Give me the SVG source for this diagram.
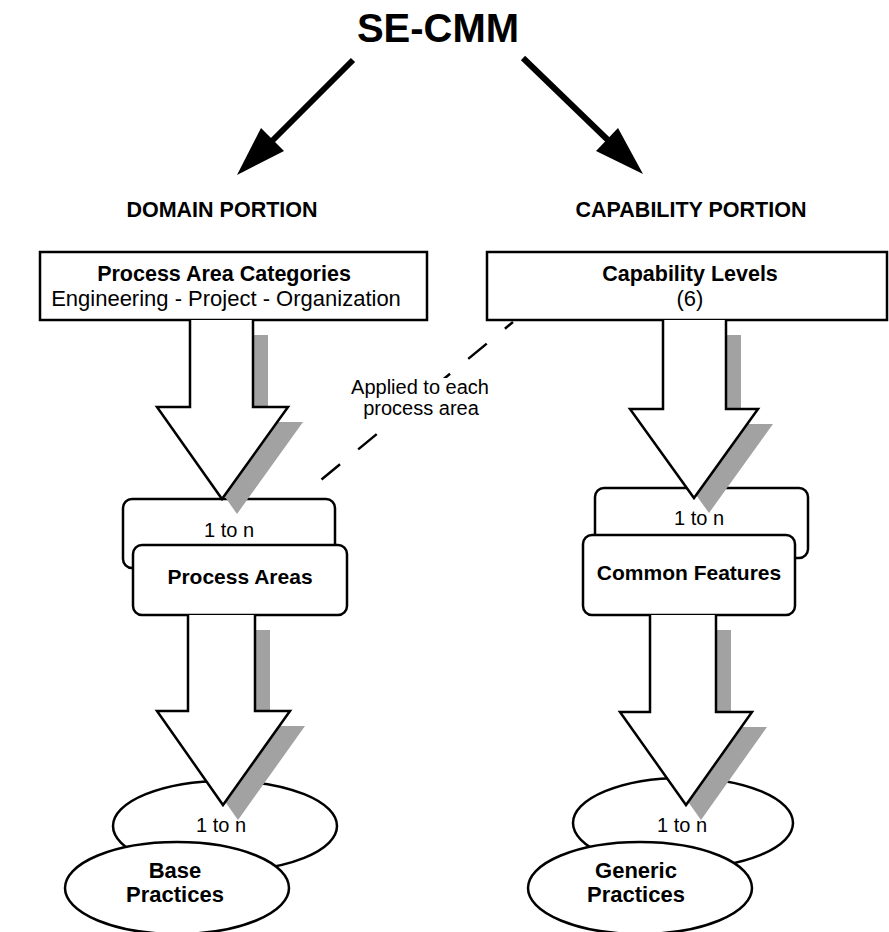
<svg xmlns="http://www.w3.org/2000/svg" width="889" height="932" viewBox="0 0 889 932">
<style>
text{font-family:"Liberation Sans",Arial,Helvetica,sans-serif;fill:#000}
.b{font-weight:bold}
.m{text-anchor:middle}
.box{fill:#fff;stroke:#000;stroke-width:2.5}
.big{fill:#fff;stroke:#000;stroke-width:2.5;stroke-linejoin:miter}
.sh{fill:#a2a2a2}
.thin{stroke:#000;stroke-width:6;fill:none}
.head{fill:#000}
.dash{stroke:#000;stroke-width:2.5;fill:none;stroke-dasharray:24 23.5;stroke-dashoffset:13.5}
</style>
<rect width="889" height="932" fill="#fff"/>
<g id="nodes">
<g id="title"><text class="b m" x="438" y="42" font-size="40">SE-CMM</text></g>
<g id="domain-label"><text class="b m" x="222" y="217" font-size="21.5">DOMAIN PORTION</text></g>
<g id="capability-label"><text class="b m" x="691" y="217" font-size="21.5">CAPABILITY PORTION</text></g>
<g id="process-area-categories">
<rect class="box" x="40" y="252" width="387" height="68"/>
<text class="b m" x="224" y="281" font-size="21.5">Process Area Categories</text>
<text class="m" x="226" y="306" font-size="22">Engineering - Project - Organization</text>
</g>
<g id="capability-levels">
<rect class="box" x="487" y="252" width="400" height="68"/>
<text class="b m" x="690" y="281" font-size="21.5">Capability Levels</text>
<text class="m" x="690" y="306" font-size="22">(6)</text>
</g>
<g id="pa-1-to-n">
<rect class="box" x="123" y="499" width="212" height="69" rx="9"/>
<text class="m" x="229" y="537" font-size="20">1 to n</text>
</g>
<g id="process-areas">
<rect class="box" x="133" y="545" width="214" height="70" rx="9"/>
<text class="b m" x="240" y="584" font-size="21">Process Areas</text>
</g>
<g id="cf-1-to-n">
<rect class="box" x="595" y="488" width="213" height="70" rx="9"/>
<text class="m" x="699" y="525" font-size="20">1 to n</text>
</g>
<g id="common-features">
<rect class="box" x="583" y="535" width="212" height="80" rx="9"/>
<text class="b m" x="689" y="580" font-size="21">Common Features</text>
</g>
<g id="bp-1-to-n">
<ellipse class="box" cx="225" cy="826" rx="112" ry="45"/>
<text class="m" x="221" y="832" font-size="20">1 to n</text>
</g>
<g id="base-practices">
<ellipse class="box" cx="177" cy="888" rx="112" ry="46"/>
<text class="b m" x="175" y="878" font-size="22">Base</text>
<text class="b m" x="175" y="902" font-size="22">Practices</text>
</g>
<g id="gp-1-to-n">
<ellipse class="box" cx="683" cy="823" rx="110" ry="45"/>
<text class="m" x="682" y="832" font-size="20">1 to n</text>
</g>
<g id="generic-practices">
<ellipse class="box" cx="640" cy="888" rx="112" ry="46"/>
<text class="b m" x="636" y="878" font-size="22">Generic</text>
<text class="b m" x="636" y="902" font-size="22">Practices</text>
</g>
</g>
<g id="connectors">
<line class="thin" x1="353" y1="60" x2="268" y2="145"/>
<polygon class="head" points="237,175 261,128 284,151"/>
<line class="thin" x1="523" y1="58" x2="612" y2="144"/>
<polygon class="head" points="643,174 618,128 596,151"/>
<g transform="translate(15,15)">
<path class="sh" d="M190,320 V407 H157 L222,499 L288,407 H253 V320 Z"/>
<path class="sh" d="M663,320 V409 H630 L694,498 L758,409 H726 V320 Z"/>
<path class="sh" d="M188,615 V711 H157 L223,805 L290,711 H255 V615 Z"/>
<path class="sh" d="M650,615 V712 H620 L686,805 L752,712 H716 V615 Z"/>
</g>
<path class="big" d="M190,320 V407 H157 L222,499 L288,407 H253 V320"/>
<path class="big" d="M663,320 V409 H630 L694,498 L758,409 H726 V320"/>
<path class="big" d="M188,615 V711 H157 L223,805 L290,711 H255 V615"/>
<path class="big" d="M650,615 V712 H620 L686,805 L752,712 H716 V615"/>
<path class="dash" d="M513,322 L321,480"/>
<rect x="345" y="378" width="150" height="43" fill="#fff"/>
<text class="m" x="420" y="394" font-size="20">Applied to each</text>
<text class="m" x="421" y="415" font-size="20">process area</text>
</g>
</svg>
